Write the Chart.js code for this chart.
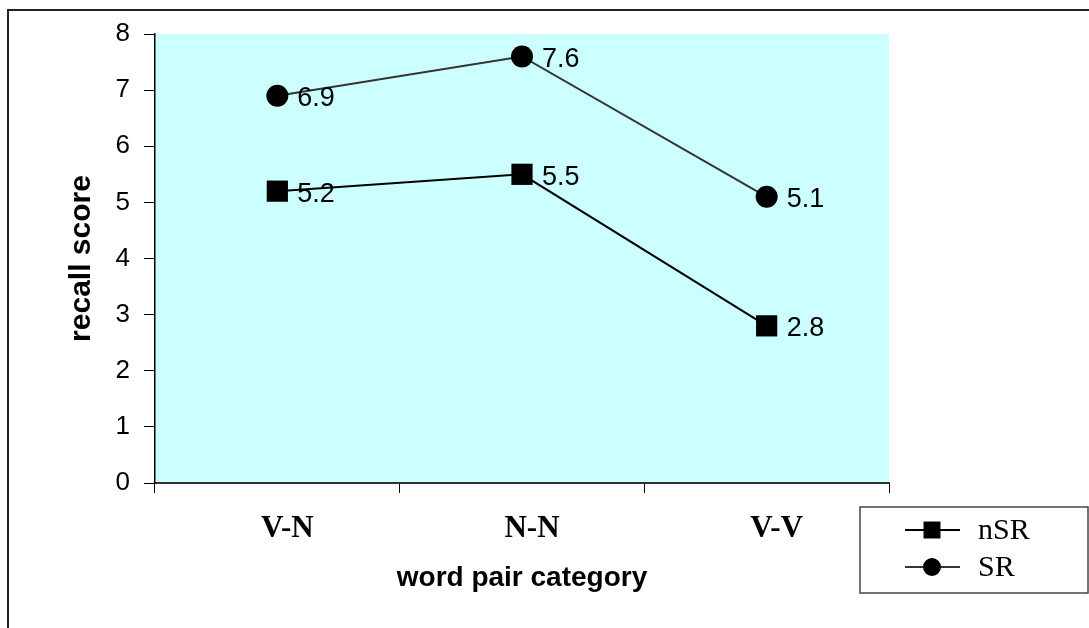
<!DOCTYPE html>
<html>
<head>
<meta charset="utf-8">
<title>recall score by word pair category</title>
<script src="https://cdn.jsdelivr.net/npm/chart.js@4.4.1/dist/chart.umd.min.js"></script>
<style>
  body { margin: 0; background: #fff; }
  canvas { display: block; }
</style>
</head>
<body>
<canvas id="recallChart" width="1089" height="628"></canvas>
<script>
    // Chart data
    const categories = ['V-N', 'N-N', 'V-V'];
    const nsrScores = [5.2, 5.5, 2.8];
    const srScores = [6.9, 7.6, 5.1];
    const seriesNames = ['nSR', 'SR'];
    const yMin = 0;
    const yMax = 8;
    const yStep = 1;

    // Light cyan plot background
    const plotBackground = {
      id: 'plotBackground',
      beforeDraw(chart) {
        const { ctx, chartArea } = chart;
        ctx.save();
        ctx.fillStyle = '#CCFFFF';
        ctx.fillRect(chartArea.left, chartArea.top, chartArea.right - chartArea.left, chartArea.bottom - chartArea.top);
        ctx.restore();
      }
    };

    // Outer frame (only top and left edges are visible in the crop)
    const outerFrame = {
      id: 'outerFrame',
      afterDraw(chart) {
        const ctx = chart.ctx;
        ctx.save();
        ctx.strokeStyle = '#222';
        ctx.lineWidth = 2;
        ctx.beginPath();
        ctx.moveTo(chart.width, 10);
        ctx.lineTo(8, 10);
        ctx.lineTo(8, chart.height);
        ctx.stroke();
        ctx.restore();
      }
    };

    // Value labels to the right of each point
    const valueLabels = {
      id: 'valueLabels',
      afterDatasetsDraw(chart) {
        const ctx = chart.ctx;
        ctx.save();
        ctx.font = '27px "Liberation Sans", Arial, sans-serif';
        ctx.fillStyle = '#000';
        ctx.textAlign = 'left';
        ctx.textBaseline = 'middle';
        chart.data.datasets.forEach((ds, i) => {
          const meta = chart.getDatasetMeta(i);
          meta.data.forEach((pt, j) => {
            ctx.fillText(ds.data[j].toFixed(1), pt.x + 20, pt.y + 3);
          });
        });
        ctx.restore();
      }
    };

    // Boxed legend in the bottom right corner
    const boxLegend = {
      id: 'boxLegend',
      afterDraw(chart) {
        const ctx = chart.ctx;
        const box = { x: 860, y: 507, w: 228, h: 86 };
        ctx.save();
        ctx.strokeStyle = '#444';
        ctx.lineWidth = 1.5;
        ctx.strokeRect(box.x, box.y, box.w, box.h);
        ctx.font = '30px "Liberation Serif", "Times New Roman", serif';
        ctx.textBaseline = 'middle';
        chart.data.datasets.forEach((ds, i) => {
          const y = 530 + i * 37;
          ctx.strokeStyle = ds.borderColor;
          ctx.lineWidth = 2;
          ctx.beginPath();
          ctx.moveTo(905, y);
          ctx.lineTo(960, y);
          ctx.stroke();
          ctx.fillStyle = '#000';
          Chart.helpers.drawPoint(ctx, {
            pointStyle: ds.pointStyle,
            radius: ds.pointStyle === 'rect' ? 12 : 9,
            borderWidth: 0
          }, 932, y);
          ctx.fillStyle = '#000';
          ctx.fillText(ds.label, 978, y + 1);
        });
        ctx.restore();
      }
    };

    const ctx = document.getElementById('recallChart').getContext('2d');
    new Chart(ctx, {
      type: 'line',
      data: {
        labels: categories,
        datasets: [{
          label: seriesNames[0],
          data: nsrScores,
          borderColor: '#000',
          backgroundColor: '#000',
          borderWidth: 2,
          pointStyle: 'rect',
          pointRadius: 15,
          pointBorderWidth: 0,
          tension: 0
        }, {
          label: seriesNames[1],
          data: srScores,
          borderColor: '#333',
          backgroundColor: '#000',
          borderWidth: 2,
          pointStyle: 'circle',
          pointRadius: 11,
          pointBorderWidth: 0,
          tension: 0
        }]
      },
      options: {
        responsive: false,
        animation: false,
        layout: {
          padding: { top: 34, right: 200, bottom: 0, left: 0 }
        },
        plugins: {
          legend: { display: false },
          tooltip: { enabled: false }
        },
        scales: {
          x: {
            offset: true,
            afterFit(scale) { scale.height = 145; },
            grid: {
              offset: true,
              drawOnChartArea: false,
              drawTicks: true,
              tickLength: 10,
              tickColor: '#000',
              color: '#000'
            },
            border: { color: '#333', width: 2 },
            ticks: {
              color: '#000',
              padding: 17,
              labelOffset: 10,
              font: { family: '"Liberation Serif", "Times New Roman", serif', size: 31, weight: 'bold' }
            },
            title: {
              display: true,
              text: 'word pair category',
              color: '#000',
              padding: { top: 0, bottom: 33 },
              font: { family: '"Liberation Sans", Arial, sans-serif', size: 28, weight: 'bold' }
            }
          },
          y: {
            min: yMin,
            max: yMax,
            afterFit(scale) { scale.width = 155; },
            grid: {
              drawOnChartArea: false,
              drawTicks: true,
              tickLength: 11,
              tickColor: '#000',
              color: '#000'
            },
            border: { color: '#000', width: 1.5 },
            ticks: {
              stepSize: yStep,
              color: '#000',
              padding: 14,
              font: { family: '"Liberation Sans", Arial, sans-serif', size: 26 }
            },
            title: {
              display: true,
              text: 'recall score',
              color: '#000',
              padding: { top: 64, bottom: 0 },
              font: { family: '"Liberation Sans", Arial, sans-serif', size: 30, weight: 'bold' }
            }
          }
        }
      },
      plugins: [plotBackground, valueLabels, boxLegend, outerFrame]
    });
</script>
</body>
</html>
